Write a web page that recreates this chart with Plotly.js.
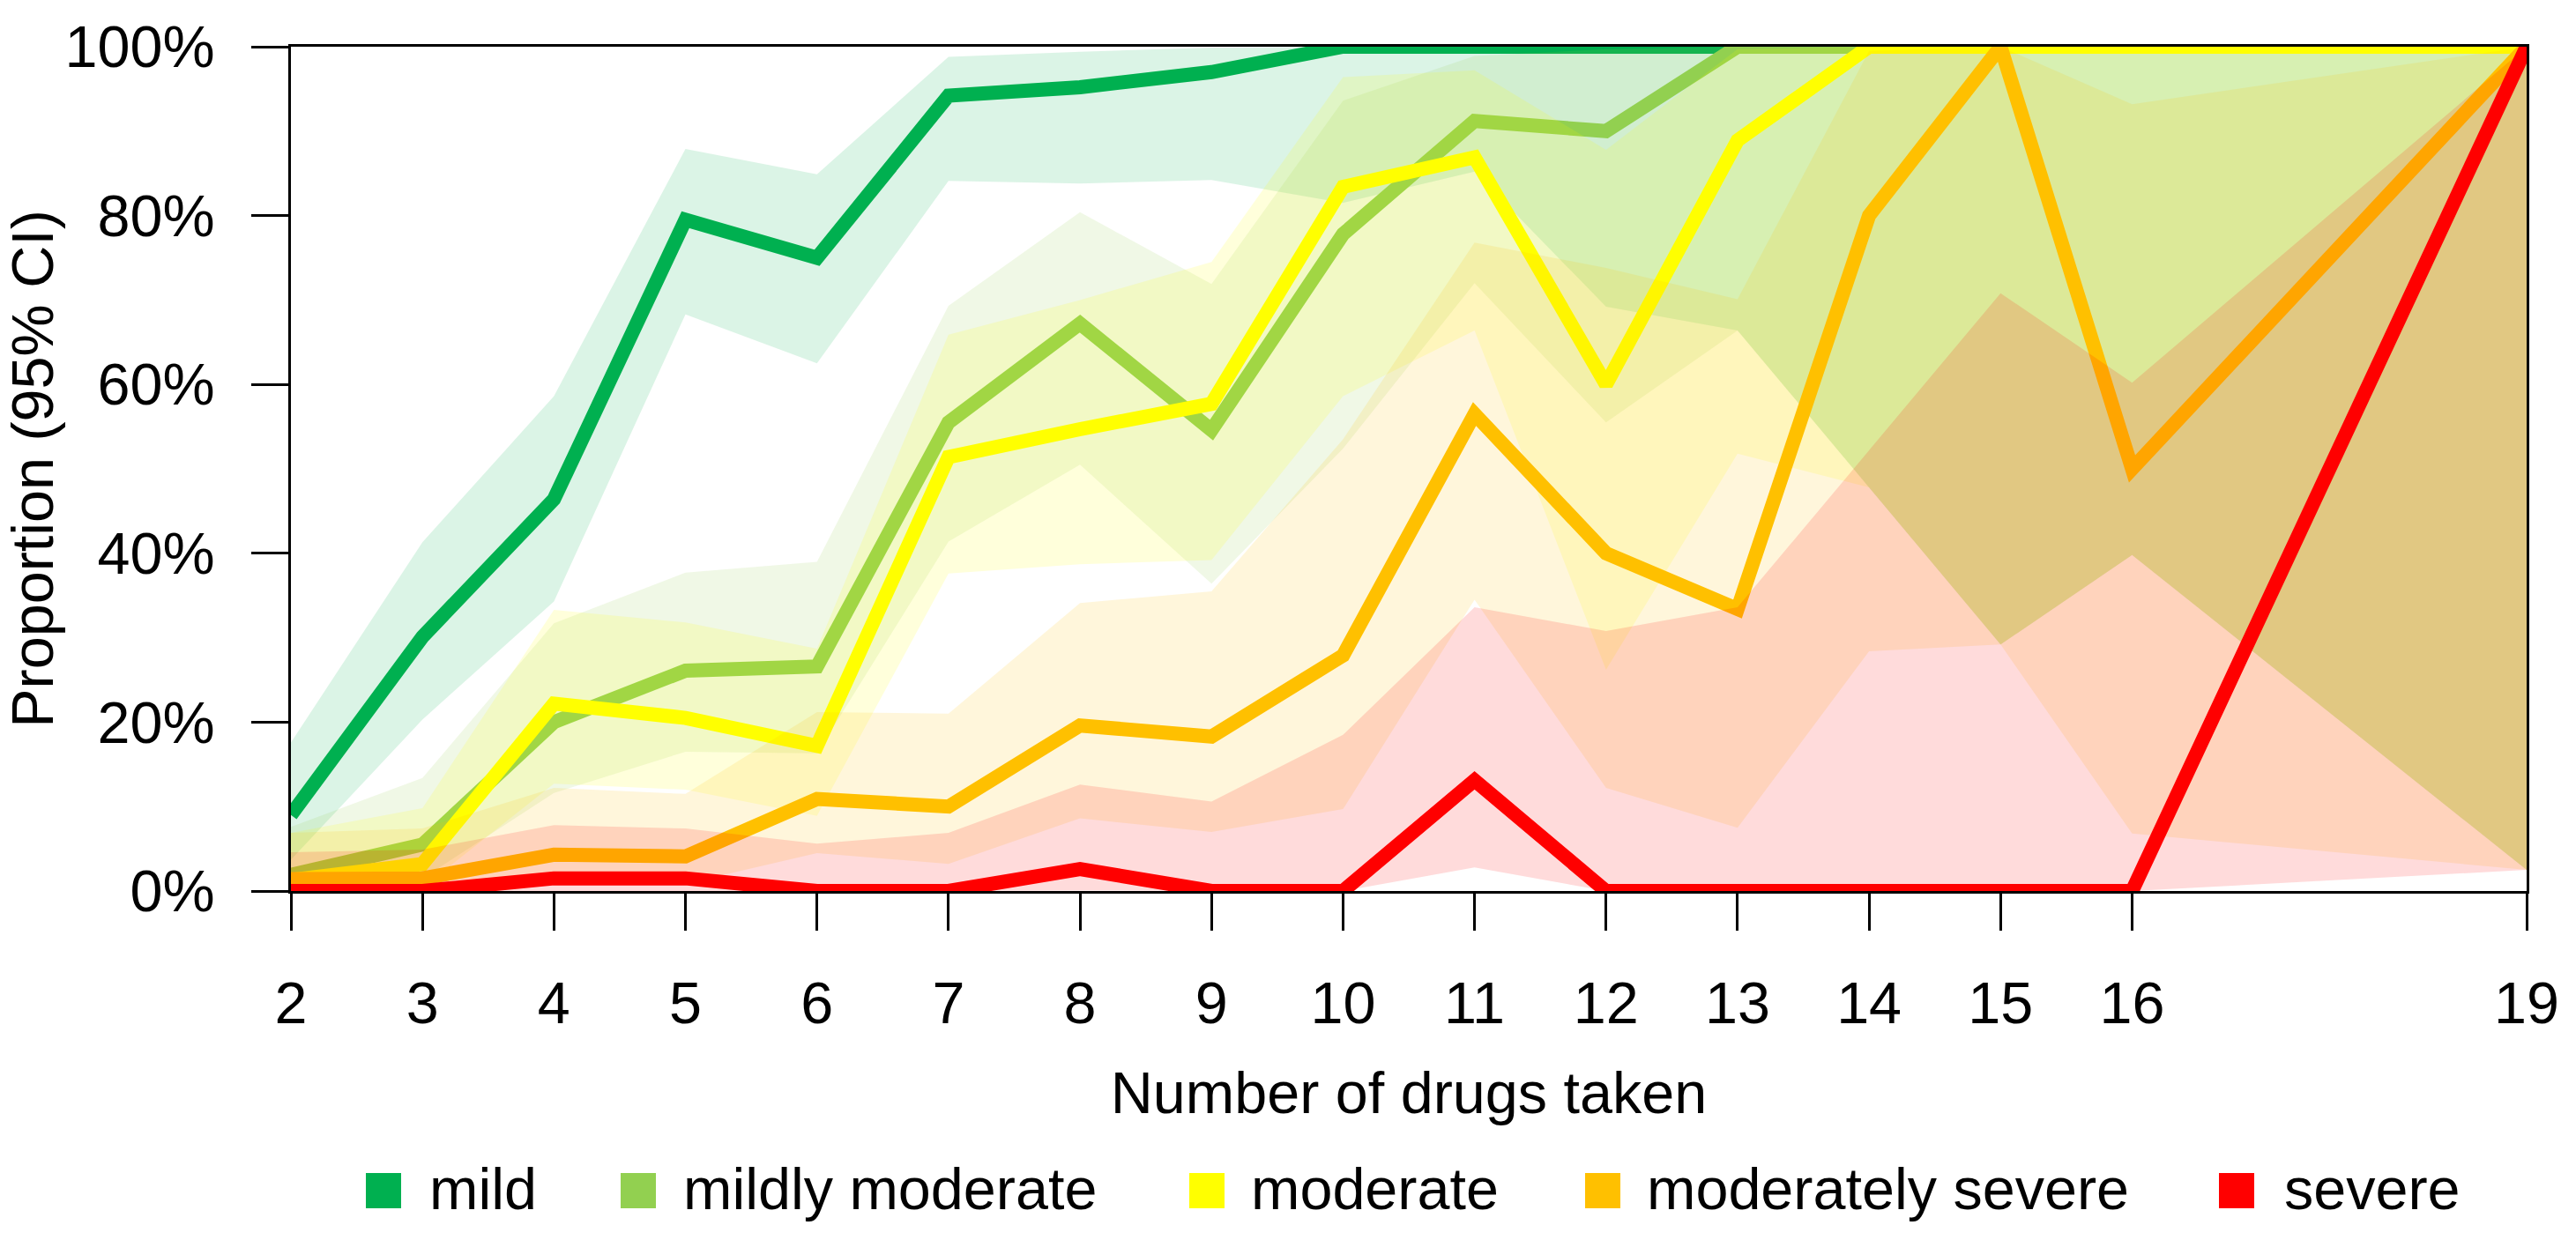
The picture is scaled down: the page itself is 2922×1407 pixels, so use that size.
<!DOCTYPE html>
<html>
<head>
<meta charset="utf-8">
<script src="https://cdn.plot.ly/plotly-3.0.1.min.js"></script>
<style>html,body{margin:0;padding:0;background:#fff;}#chart{width:2922px;height:1407px;}</style>
</head>
<body>
<div id="chart"></div>
<script>
// ---- data ----
const drugs = [2, 3, 4, 5, 6, 7, 8, 9, 10, 11, 12, 13, 14, 15, 16, 19];
const tickLabels = ["2","3","4","5","6","7","8","9","10","11","12","13","14","15","16","19"];
const yTicks = [0, 20, 40, 60, 80, 100];
const yTickLabels = ["0%", "20%", "40%", "60%", "80%", "100%"];

const seriesNames = ["mild", "mildly moderate", "moderate", "moderately severe", "severe"];

const mild    = [9.0, 30.1, 46.4, 79.5, 75.0, 94.2, 95.2, 97.0, 100, 100, 100, 100, 100, 100, 100, 100];
const mildLo  = [3.7, 20.3, 34.3, 68.3, 62.5, 84.1, 83.8, 84.2, 81.5, 85.2, 69.2, 66.4, 47.8, 29.2, 39.8, 2.5];
const mildHi  = [17.6, 41.3, 58.6, 87.9, 84.9, 98.8, 99.4, 99.9, 100, 100, 100, 100, 100, 100, 100, 100];

const mildMod   = [1.9, 5.5, 20.0, 26.1, 26.6, 55.5, 67.2, 54.6, 77.8, 91.2, 90.0, 100, 100, 100, 100, 100];
const mildModLo = [0.05, 1.5, 11.6, 16.5, 16.3, 41.4, 50.5, 36.4, 52.4, 72.0, 55.5, 66.4, 47.8, 29.2, 39.8, 2.5];
const mildModHi = [7.6, 13.4, 31.7, 37.7, 39.0, 69.3, 80.4, 71.9, 93.6, 98.9, 99.7, 100, 100, 100, 100, 100];

const moderate   = [1.3, 3.2, 22.2, 20.5, 17.2, 51.4, 54.7, 57.7, 83.4, 86.9, 60.0, 88.9, 100, 100, 100, 100];
const moderateLo = [0.03, 0.4, 12.7, 12.0, 8.9, 37.6, 38.7, 39.2, 58.6, 66.4, 26.2, 51.8, 47.8, 29.2, 39.8, 2.5];
const moderateHi = [6.9, 9.8, 33.3, 31.8, 28.7, 65.9, 70.0, 74.5, 96.4, 97.2, 87.8, 99.7, 100, 100, 100, 100];

const modSevere   = [1.4, 1.5, 4.3, 4.1, 10.9, 10.0, 19.6, 18.3, 27.9, 56.5, 40.0, 33.4, 80.0, 100, 50.0, 100];
const modSevereLo = [0.03, 0.03, 0.9, 0.86, 4.5, 3.2, 8.6, 7.0, 9.7, 34.5, 12.2, 7.5, 28.4, 29.2, 6.8, 2.5];
const modSevereHi = [6.9, 7.4, 12.2, 11.5, 21.2, 21.0, 34.1, 35.5, 53.5, 76.8, 73.8, 70.1, 99.5, 100, 93.2, 100];

const severe   = [0, 0, 1.5, 1.5, 0, 0, 2.6, 0, 0, 13.1, 0, 0, 0, 0, 0, 100];
const severeLo = [0, 0, 0.04, 0.03, 0, 0, 0.06, 0, 0, 2.8, 0, 0, 0, 0, 0, 2.5];
const severeHi = [4.6, 4.9, 7.8, 7.4, 5.6, 6.9, 12.6, 10.6, 18.5, 33.6, 30.8, 33.6, 52.2, 70.8, 60.2, 100];

// ---- styles ----
const lineColors = ["#00B050", "#92D050", "#FFFF00", "#FFC000", "#FF0000"];
const bandColors = ["rgba(0,176,80,0.14)", "rgba(146,208,80,0.14)", "rgba(255,255,0,0.14)",
                    "rgba(255,192,0,0.14)", "rgba(255,0,0,0.14)"];
const FONT = "Liberation Sans, Arial, Helvetica, sans-serif";
const FS = 66.5;

const seriesVals = [mild, mildMod, moderate, modSevere, severe];
const seriesLo = [mildLo, mildModLo, moderateLo, modSevereLo, severeLo];
const seriesHi = [mildHi, mildModHi, moderateHi, modSevereHi, severeHi];

const traces = [];
seriesNames.forEach(function (name, i) {
  const xr = drugs.slice().reverse();
  const loR = seriesLo[i].slice().reverse();
  traces.push({
    type: "scatter", mode: "lines",
    x: drugs.concat(xr), y: seriesHi[i].concat(loR),
    fill: "toself", fillcolor: bandColors[i],
    line: {width: 0, color: "rgba(0,0,0,0)"},
    hoverinfo: "skip", showlegend: false
  });
  traces.push({
    type: "scatter", mode: "lines", name: name,
    x: drugs, y: seriesVals[i],
    line: {color: lineColors[i], width: 16},
    showlegend: false
  });
});

// ---- layout geometry (pixels) ----
const W = 2922, H = 1407;
const PL = 330, PR = 2866, PT = 53, PB = 1011;
function px(x) { return (x - PL) / (PR - PL); }
function py(y) { return (PB - y) / (PB - PT); }

const legendSquares = [415, 704, 1349, 1798, 2517];
const legendTextX = [485, 773, 1417, 1866, 2589];
const shapes = [], annotations = [];
seriesNames.forEach(function (name, i) {
  shapes.push({
    type: "rect", xref: "paper", yref: "paper",
    x0: px(legendSquares[i]), x1: px(legendSquares[i] + 40),
    y0: py(1371), y1: py(1331),
    fillcolor: lineColors[i], line: {width: 0}
  });
  annotations.push({
    xref: "paper", yref: "paper", x: px(legendTextX[i]), y: py(1349),
    xanchor: "left", yanchor: "middle", showarrow: false,
    text: name, font: {family: FONT, size: FS, color: "#000"}
  });
});

const layout = {
  width: W, height: H,
  margin: {l: PL, r: W - PR, t: PT, b: H - PB, pad: 0},
  paper_bgcolor: "#fff", plot_bgcolor: "#fff",
  showlegend: false,
  font: {family: FONT, size: FS, color: "#000"},
  xaxis: {
    range: [2, 19], tickmode: "array", tickvals: drugs, ticktext: tickLabels,
    showgrid: false, zeroline: false,
    showline: true, mirror: true, linecolor: "#000", linewidth: 3,
    ticks: "outside", ticklen: 42, tickwidth: 3, tickcolor: "#000",
    ticklabelstandoff: 25,
    tickfont: {family: FONT, size: FS, color: "#000"},
    title: {text: "Number of drugs taken", standoff: 43, font: {family: FONT, size: FS, color: "#000"}},
    automargin: false, fixedrange: true
  },
  yaxis: {
    range: [0, 100], tickmode: "array", tickvals: yTicks, ticktext: yTickLabels,
    showgrid: false, zeroline: false,
    showline: true, mirror: true, linecolor: "#000", linewidth: 3,
    ticks: "outside", ticklen: 42, tickwidth: 3, tickcolor: "#000",
    ticklabelstandoff: 28,
    tickfont: {family: FONT, size: FS, color: "#000"},
    title: {text: "Proportion (95% CI)", standoff: 0, font: {family: FONT, size: FS, color: "#000"}},
    automargin: false, fixedrange: true
  },
  shapes: shapes,
  annotations: annotations
};

Plotly.newPlot("chart", traces, layout, {staticPlot: true, displayModeBar: false});
</script>
</body>
</html>
